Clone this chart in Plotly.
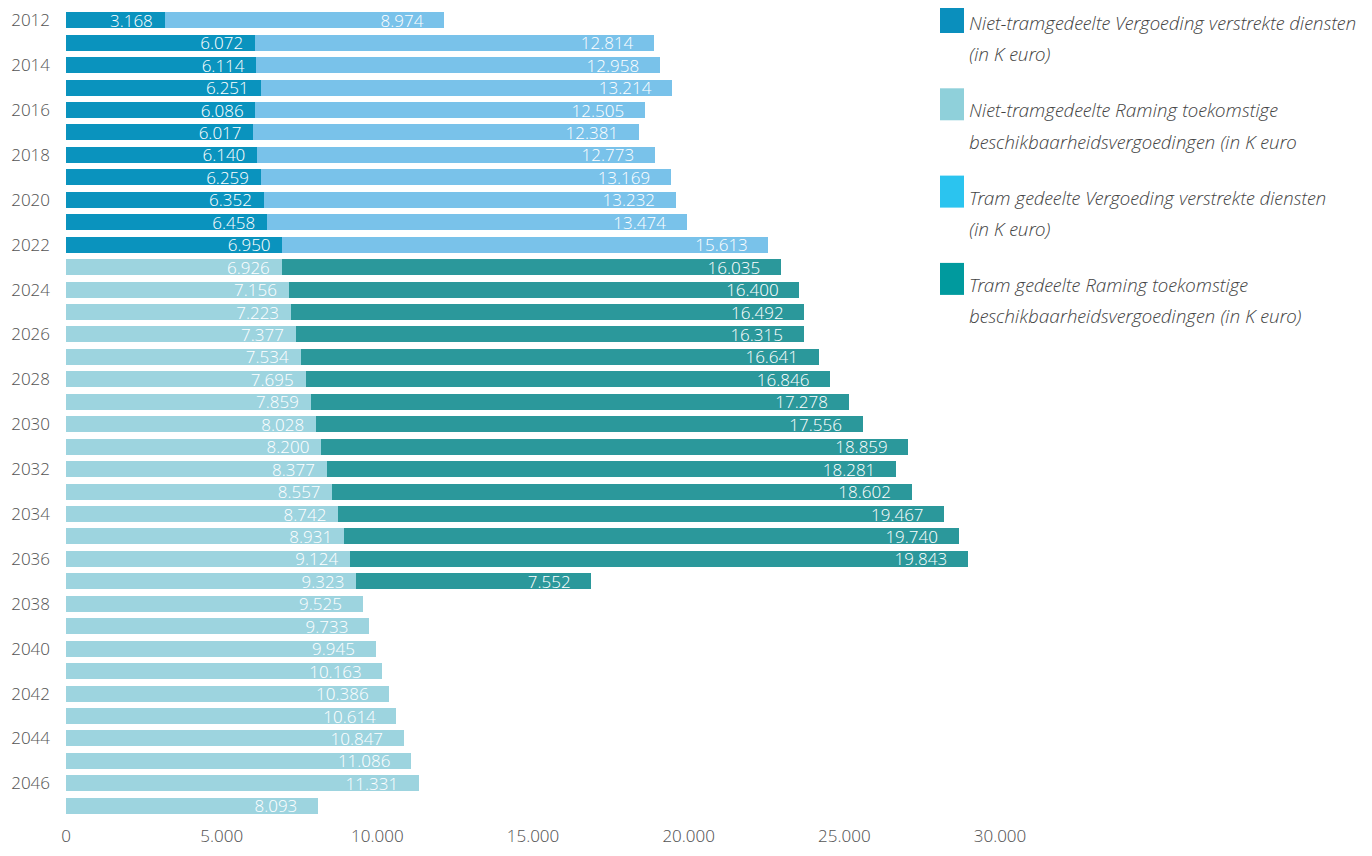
import plotly.graph_objects as go

# ---- data ----
years_a = list(range(2012, 2023))
nt_vergoeding = [3168, 6072, 6114, 6251, 6086, 6017, 6140, 6259, 6352, 6458, 6950]
t_vergoeding = [8974, 12814, 12958, 13214, 12505, 12381, 12773, 13169, 13232, 13474, 15613]

years_b = list(range(2023, 2048))
nt_raming = [6926, 7156, 7223, 7377, 7534, 7695, 7859, 8028, 8200, 8377, 8557, 8742, 8931,
             9124, 9323, 9525, 9733, 9945, 10163, 10386, 10614, 10847, 11086, 11331, 8093]
years_c = list(range(2023, 2038))
t_raming = [16035, 16400, 16492, 16315, 16641, 16846, 17278, 17556, 18859, 18281, 18602,
            19467, 19740, 19843, 7552]

y_ticks = list(range(2012, 2047, 2))
x_ticks = [0, 5000, 10000, 15000, 20000, 25000, 30000]

legend_lines = [
    ("Niet-tramgedeelte Vergoeding verstrekte diensten", "(in K euro)"),
    ("Niet-tramgedeelte Raming toekomstige", "beschikbaarheidsvergoedingen (in K euro"),
    ("Tram gedeelte Vergoeding verstrekte diensten", "(in K euro)"),
    ("Tram gedeelte Raming toekomstige", "beschikbaarheidsvergoedingen (in K euro)"),
]
legend_colors = ["#0a8fbd", "#8fd0da", "#2bc4ef", "#009a9e"]
bar_colors = ["#0a93be", "#9dd4df", "#79c2ea", "#2b989b"]

FONT = "Open Sans Light, Open Sans"
NBSP = "\u00a0"

# page body has an 8px margin: the figure sits 8px right/down of the window origin,
# so it is sized to fit inside the window without scrollbars.
OFF = 8
W, H = 1372 - 2 * OFF, 856 - 2 * OFF
L, T = 66 - OFF, 1
R = W - (1000 - OFF)
B = H - (817 - OFF)
PW, PH = W - L - R, H - T - B


def fmt(v):
    return f"{v:,}".replace(",", ".")


def labels(values, years, last_years):
    out = []
    for v, y in zip(values, years):
        pad = 4 if y in last_years else 2
        out.append(fmt(v) + NBSP * pad)
    return out


fig = go.Figure()


def add_bar(y, x, color, text, name):
    fig.add_trace(go.Bar(
        y=y, x=x, orientation="h", name=name,
        marker=dict(color=color, line=dict(width=0)),
        text=text, texttemplate="%{text}", textposition="inside", insidetextanchor="end",
        textangle=0, constraintext="none",
        textfont=dict(color="white", size=17, family=FONT),
        showlegend=False, hovertemplate="%{y}: %{x:,.0f}<extra>" + name + "</extra>",
    ))


add_bar(years_a, nt_vergoeding, bar_colors[0], labels(nt_vergoeding, years_a, []),
        " ".join(legend_lines[0]))
add_bar(years_b, nt_raming, bar_colors[1], labels(nt_raming, years_b, set(years_b) - set(years_c)),
        " ".join(legend_lines[1]))
add_bar(years_a, t_vergoeding, bar_colors[2], labels(t_vergoeding, years_a, years_a),
        " ".join(legend_lines[2]))
add_bar(years_c, t_raming, bar_colors[3], labels(t_raming, years_c, years_c),
        " ".join(legend_lines[3]))


# ---- manual legend (swatches + two-line italic text), positions in window pixels ----
def px_x(p):
    return (p - OFF - L) / PW


def px_y(p):
    return (H - B - (p - OFF)) / PH


shapes, annotations = [], []
for i, ((l1, l2), col) in enumerate(zip(legend_lines, legend_colors)):
    top = 1 + i * 87.3
    shapes.append(dict(type="rect", xref="paper", yref="paper",
                       x0=px_x(940), x1=px_x(964), y0=px_y(top + 32), y1=px_y(max(top, OFF)),
                       fillcolor=col, line=dict(width=0)))
    for j, line in enumerate((l1, l2)):
        annotations.append(dict(
            xref="paper", yref="paper", x=px_x(967), y=px_y(top + 22 + j * 31.5),
            xanchor="left", yanchor="middle", showarrow=False, text=line,
            font=dict(family=FONT, size=19, color="#444444", style="italic"),
        ))

fig.update_layout(
    width=W, height=H,
    barmode="stack", bargap=0.29,
    separators=",.",
    plot_bgcolor="white", paper_bgcolor="white",
    margin=dict(l=L, r=R, t=T, b=B, autoexpand=False),
    font=dict(family=FONT, color="#555555", size=16),
    showlegend=False,
    shapes=shapes, annotations=annotations,
    xaxis=dict(
        range=[0, 30000], tickvals=x_ticks,
        tickformat=",.0f", showgrid=False, zeroline=False, showline=False,
        ticks="", tickfont=dict(size=17, color="#555555", family=FONT),
        ticklabelstandoff=7, automargin=False,
    ),
    yaxis=dict(
        range=[2047.5, 2011.5], tickvals=y_ticks,
        showgrid=False, zeroline=False, showline=False, ticks="",
        tickfont=dict(size=17, color="#555555", family=FONT),
        ticklabelstandoff=15, automargin=False,
    ),
)

fig.write_html("out.html")
